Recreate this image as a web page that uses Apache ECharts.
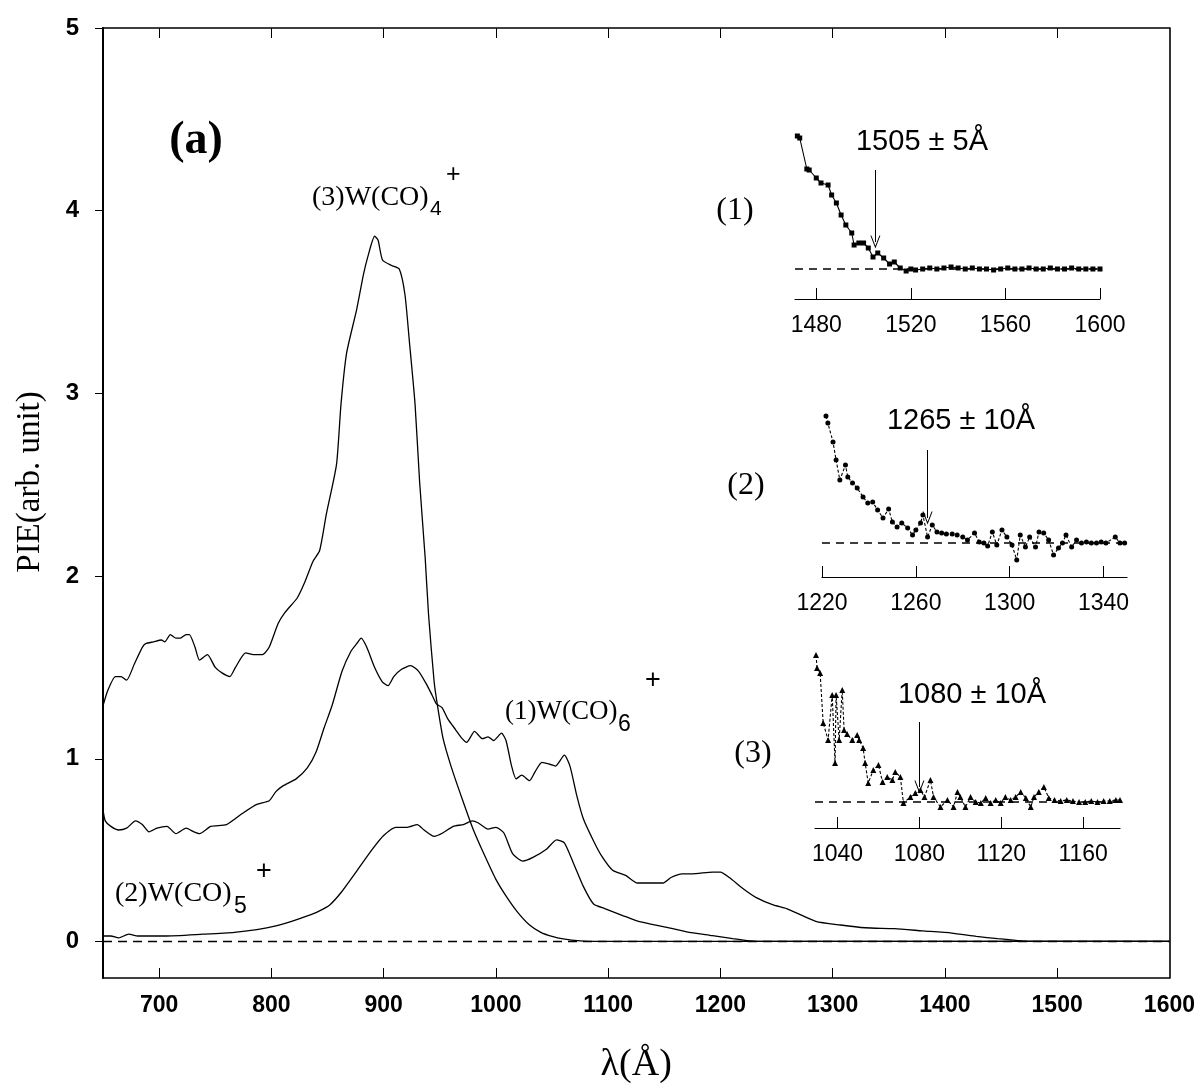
<!DOCTYPE html>
<html>
<head>
<meta charset="utf-8">
<script src="https://cdn.jsdelivr.net/npm/echarts@6/dist/echarts.min.js"></script>
<style>
  html, body { margin: 0; padding: 0; background: #fff; }
  #chart { width: 1198px; height: 1091px; }
</style>
</head>
<body>
<div id="chart"></div>
<script>
// main panel: wavelength (Å) vs PIE (arb. unit)
const w6Curve = [[650,0.72],[652,0.66],[657,0.63],[664,0.61],[671,0.62],[679,0.66],[685,0.64],[691,0.60],[698,0.62],[707,0.63],[715,0.59],[724,0.62],[731,0.60],[736,0.59],[746,0.63],[760,0.64],[774,0.70],[787,0.75],[798,0.77],[804,0.82],[810,0.85],[822,0.89],[832,0.95],[840,1.04],[847,1.17],[854,1.29],[863,1.48],[871,1.59],[876,1.63],[880,1.66],[885,1.61],[892,1.50],[899,1.42],[904,1.40],[909,1.45],[916,1.49],[924,1.51],[931,1.48],[938,1.41],[943,1.35],[947,1.30],[952,1.28],[957,1.22],[964,1.16],[970,1.11],[974,1.09],[981,1.15],[988,1.11],[993,1.12],[998,1.10],[1005,1.14],[1009,1.10],[1014,0.96],[1018,0.89],[1023,0.91],[1030,0.88],[1035,0.93],[1041,0.98],[1048,0.97],[1053,0.96],[1061,1.02],[1066,0.96],[1072,0.80],[1078,0.67],[1087,0.55],[1094,0.47],[1104,0.39],[1116,0.36],[1126,0.32],[1135,0.32],[1141,0.32],[1149,0.32],[1156,0.35],[1166,0.37],[1175,0.37],[1193,0.38],[1200,0.38],[1208,0.35],[1220,0.29],[1232,0.24],[1247,0.20],[1259,0.18],[1285,0.11],[1307,0.09],[1329,0.075],[1355,0.07],[1380,0.058],[1406,0.046],[1428,0.028],[1447,0.015],[1465,0.005],[1480,0],[1600,0]];
const w5Curve = [[650,0.03],[657,0.03],[664,0.02],[673,0.04],[681,0.03],[705,0.03],[739,0.04],[767,0.05],[787,0.065],[804,0.085],[818,0.11],[832,0.14],[842,0.165],[852,0.20],[863,0.275],[876,0.385],[890,0.505],[900,0.58],[911,0.625],[921,0.625],[930,0.64],[936,0.61],[945,0.575],[953,0.595],[962,0.63],[971,0.64],[979,0.66],[984,0.65],[993,0.615],[1000,0.625],[1007,0.595],[1015,0.48],[1024,0.44],[1033,0.46],[1045,0.505],[1054,0.556],[1061,0.54],[1069,0.43],[1078,0.30],[1087,0.205],[1097,0.18],[1113,0.142],[1128,0.108],[1150,0.08],[1170,0.053],[1193,0.032],[1211,0.015],[1226,0.003],[1240,0],[1600,0]];
const w4Curve = [[650,1.29],[654,1.37],[661,1.45],[666,1.45],[671,1.43],[678,1.52],[685,1.61],[688,1.63],[695,1.64],[702,1.65],[705,1.64],[710,1.68],[715,1.66],[719,1.66],[724,1.68],[727,1.68],[732,1.61],[736,1.54],[743,1.57],[750,1.50],[756,1.47],[763,1.45],[768,1.50],[777,1.58],[784,1.57],[792,1.57],[798,1.61],[806,1.74],[812,1.80],[823,1.88],[830,1.97],[837,2.08],[843,2.14],[849,2.34],[858,2.61],[862,2.94],[867,3.22],[876,3.46],[882,3.65],[886,3.75],[892,3.86],[895,3.84],[899,3.73],[907,3.70],[914,3.68],[919,3.54],[923,3.28],[928,2.94],[932,2.52],[937,2.10],[940,1.79],[945,1.42],[948,1.29],[953,1.11],[960,0.96],[970,0.78],[980,0.61],[990,0.47],[1000,0.34],[1010,0.24],[1020,0.155],[1030,0.09],[1040,0.05],[1050,0.028],[1060,0.014],[1075,0.003],[1090,0],[1600,0]];
const zeroLine = [[650,0],[1600,0]];
const mainXTicks = [700,800,900,1000,1100,1200,1300,1400,1500];
const mainXLabels = [700,800,900,1000,1100,1200,1300,1400,1500,1600];
const mainYTicks = [0,1,2,3,4,5];

// threshold insets (arbitrary y units, baseline = 0)
const inset1 = [[1472,1.33],[1473,1.31],[1476,1.00],[1477,0.99],[1480,0.91],[1482,0.86],[1485,0.84],[1486.5,0.74],[1488.5,0.66],[1490.5,0.54],[1492.5,0.44],[1495,0.36],[1496,0.24],[1498,0.26],[1500,0.26],[1502,0.21],[1504,0.12],[1506,0.16],[1508.5,0.11],[1511,0.05],[1513,0.07],[1515.5,0.01],[1518,-0.02],[1520,0],[1522,-0.01],[1525,0],[1528,0.01],[1531,0],[1534,0.01],[1537,0.02],[1540,0.01],[1543,0],[1546,0.01],[1549,0],[1552,0],[1555,-0.01],[1558,0],[1561,0.01],[1564,0],[1567,0],[1570,0.01],[1573,0],[1576,0],[1579,0.01],[1582,0],[1585,0],[1588,0.01],[1591,0],[1594,0],[1597,0],[1600,0]];
const inset2 = [[1221.7,1.27],[1222.5,1.20],[1224.7,1.01],[1226,0.83],[1227.6,0.63],[1230,0.78],[1231,0.66],[1233,0.60],[1235,0.55],[1237.5,0.46],[1239.5,0.40],[1241.6,0.41],[1243.7,0.33],[1246,0.25],[1248.4,0.34],[1250,0.21],[1252,0.16],[1254,0.20],[1256.5,0.15],[1258.6,0.08],[1260,0.13],[1262,0.20],[1263,0.28],[1265,0.06],[1267,0.18],[1269,0.11],[1271,0.10],[1273,0.09],[1275.5,0.09],[1277.6,0.08],[1280,0.06],[1282,0.03],[1285,0.10],[1287,0.01],[1289,0],[1290.6,-0.03],[1292.6,0.11],[1294.5,-0.02],[1296.7,0.13],[1298.8,0.06],[1301,-0.02],[1303,-0.17],[1304.5,0.08],[1306.7,-0.04],[1308.5,0.06],[1311,-0.04],[1312.5,0.11],[1314.5,0.10],[1316.6,0.03],[1318.7,-0.12],[1320.8,-0.05],[1322.5,0],[1324,0.08],[1326.4,-0.04],[1328.5,0.03],[1330.6,0],[1332.7,0.01],[1334.8,0],[1337,0],[1339,0.01],[1341,0],[1345,0.06],[1347,0],[1349,0]];
const inset3 = [[1029.5,1.47],[1030,1.34],[1031.5,1.29],[1033,0.79],[1035.4,0.62],[1037.4,1.07],[1038.8,0.39],[1039.3,1.07],[1040.8,0.62],[1042.3,1.12],[1043.2,0.72],[1044.7,0.68],[1047.2,0.62],[1049.6,0.67],[1050.6,0.62],[1052.5,0.54],[1053.5,0.39],[1055,0.19],[1057.5,0.32],[1060,0.37],[1062,0.20],[1064.3,0.25],[1066.8,0.22],[1068.2,0.30],[1070.7,0.25],[1072.2,-0.01],[1075.6,0.05],[1078,0.09],[1080.5,0.12],[1082.5,0.05],[1085.4,0.22],[1086.9,0.05],[1090.3,-0.05],[1093.7,0.02],[1096.7,-0.05],[1098.6,0.10],[1100,0.05],[1102.5,-0.05],[1105,0.05],[1107.5,0],[1110,-0.01],[1112.4,0.04],[1114.8,-0.01],[1117.3,0.02],[1119.7,-0.01],[1122,0.05],[1124.6,0.02],[1127,0.05],[1129.5,0.10],[1132,0.04],[1134.4,-0.05],[1136,0.05],[1138.3,0.10],[1140.8,0.15],[1143.2,0.04],[1146,0.02],[1149,0.01],[1152,0.02],[1155,0.01],[1158,0],[1161,0],[1164,0.01],[1167,0],[1170,0.01],[1173,0.01],[1176,0.02],[1178,0.02]];
const inset1Ticks = [1480,1520,1560,1600];
const inset2Ticks = [1220,1260,1300,1340];
const inset3Ticks = [1040,1080,1120,1160];
const thresholdWave = [1505, 1265, 1080];
const arrowTop = [0.99, 0.93, 0.80];
const arrowTip = [0.27, 0.25, 0.15];

const SERIF = "'Liberation Serif', 'Times New Roman', serif";
const SANS = "'Liberation Sans', Arial, sans-serif";
const BLACK = '#000';
const arrowHead = 'path://M0,12 L5,0 L10,12 L9,12 L5,2.5 L1,12 Z';
const plain = v => String(v);

function insetX (grid, min, max, ticks) {
  return {
    type: 'value', gridIndex: grid, min: min, max: max,
    axisLine: { onZero: false, lineStyle: { color: BLACK, width: 1.2 } },
    axisTick: { inside: true, length: 11, customValues: ticks, lineStyle: { color: BLACK } },
    axisLabel: { customValues: ticks, formatter: plain, fontFamily: SANS, fontSize: 23, color: BLACK, margin: 15 },
    splitLine: { show: false }
  }
}

function insetY (grid, min, max) {
  return { type: 'value', gridIndex: grid, min: min, max: max, show: false }
}

function insetSeries (idx, data, symbol, size, dashed) {
  return {
    type: 'line', xAxisIndex: idx + 1, yAxisIndex: idx + 2, data: data,
    symbol: symbol, symbolSize: size, showSymbol: true,
    itemStyle: { color: BLACK }, lineStyle: { color: BLACK, width: 1.1, type: dashed ? [3, 2] : 'solid' },
    markLine: {
      silent: true, symbol: ['none', arrowHead], symbolSize: [10, 13],
      lineStyle: { color: BLACK, width: 1, type: 'solid' }, label: { show: false },
      data: [[{ coord: [thresholdWave[idx], arrowTop[idx]] }, { coord: [thresholdWave[idx], arrowTip[idx]] }]]
    }
  }
}

function baseSeries (xi, yi, data, dash) {
  return {
    type: 'line', xAxisIndex: xi, yAxisIndex: yi, data: data, showSymbol: false, silent: true,
    lineStyle: { color: BLACK, width: 1.4, type: dash }
  }
}

function curve (data) {
  return {
    type: 'line', xAxisIndex: 0, yAxisIndex: 0, data: data, showSymbol: false, smooth: 0.2,
    lineStyle: { color: BLACK, width: 1.3 }
  }
}

function txt (text, x, y, font, align, rot) {
  return {
    type: 'text', x: x, y: y, rotation: rot || 0,
    style: { text: text, font: font, fill: BLACK, textAlign: align || 'left', textVerticalAlign: 'middle' }
  }
}

const chart = echarts.init(document.getElementById('chart'))
chart.setOption({
  animation: false,
  backgroundColor: '#fff',
  grid: [
    { left: 103, top: 28, width: 1070, height: 950 },
    { left: 795, top: 130, width: 305, height: 169 },
    { left: 822, top: 400, width: 305, height: 177 },
    { left: 815, top: 650, width: 305, height: 178 }
  ],
  xAxis: [
    {
      type: 'value', gridIndex: 0, min: 650, max: 1600, position: 'bottom',
      axisLine: { onZero: false, lineStyle: { color: BLACK, width: 1.6 } },
      axisTick: { inside: true, length: 10, customValues: mainXTicks, lineStyle: { color: BLACK } },
      axisLabel: { customValues: mainXLabels, formatter: plain, fontFamily: SANS, fontWeight: 'bold', fontSize: 23, color: BLACK, margin: 16 },
      splitLine: { show: false },
      name: 'λ(Å)', nameLocation: 'middle', nameGap: 68,
      nameTextStyle: { fontFamily: SERIF, fontSize: 38, color: BLACK }
    },
    insetX(1, 1471, 1600, inset1Ticks),
    insetX(2, 1220, 1350, inset2Ticks),
    insetX(3, 1029, 1178, inset3Ticks),
    {
      type: 'value', gridIndex: 0, min: 650, max: 1600, position: 'top',
      axisLine: { onZero: false, lineStyle: { color: BLACK, width: 1.6 } },
      axisTick: { inside: true, length: 10, customValues: mainXTicks, lineStyle: { color: BLACK } },
      axisLabel: { show: false }, splitLine: { show: false }
    }
  ],
  yAxis: [
    {
      type: 'value', gridIndex: 0, min: -0.2, max: 5, position: 'left',
      axisLine: { show: true, onZero: false, lineStyle: { color: BLACK, width: 2 } },
      axisTick: { show: true, length: 8, customValues: mainYTicks, lineStyle: { color: BLACK } },
      axisLabel: { customValues: mainYTicks, formatter: plain, fontFamily: SANS, fontWeight: 'bold', fontSize: 24, color: BLACK, margin: 24 },
      splitLine: { show: false }
    },
    {
      type: 'value', gridIndex: 0, min: -0.2, max: 5, position: 'right',
      axisLine: { show: true, onZero: false, lineStyle: { color: BLACK, width: 1.6 } },
      axisTick: { show: false }, axisLabel: { show: false }, splitLine: { show: false }
    },
    insetY(1, -0.30, 1.39),
    insetY(2, -0.34, 1.43),
    insetY(3, -0.26, 1.52)
  ],
  series: [
    baseSeries(0, 0, zeroLine, [9, 6]),
    curve(w6Curve),
    curve(w5Curve),
    curve(w4Curve),
    baseSeries(1, 2, [[1471, 0], [1600, 0]], [8, 6]),
    baseSeries(2, 3, [[1220, 0], [1350, 0]], [8, 6]),
    baseSeries(3, 4, [[1029, 0], [1178, 0]], [8, 6]),
    insetSeries(0, inset1, 'rect', 5, false),
    insetSeries(1, inset2, 'circle', 5, true),
    insetSeries(2, inset3, 'triangle', 6, true)
  ],
  graphic: [
    txt('PIE(arb. unit)', 30, 482, '33px ' + SERIF, 'center', Math.PI / 2),
    txt('(a)', 196, 141, 'bold 46px ' + SERIF, 'center'),
    txt('(3)W(CO)', 312, 198, '28px ' + SERIF),
    txt('4', 430, 209, '21px ' + SANS),
    txt('+', 446, 175, '25px ' + SANS),
    txt('(1)W(CO)', 505, 712, '27px ' + SERIF),
    txt('6', 618, 725, '23px ' + SANS),
    txt('+', 645, 681, '27px ' + SANS),
    txt('(2)W(CO)', 115, 894, '28px ' + SERIF),
    txt('5', 234, 907, '23px ' + SANS),
    txt('+', 256, 872, '27px ' + SANS),
    txt('(1)', 735, 211, '32px ' + SERIF, 'center'),
    txt('(2)', 746, 486, '32px ' + SERIF, 'center'),
    txt('(3)', 753, 754, '32px ' + SERIF, 'center'),
    txt('1505 ± 5Å', 922, 142, '29px ' + SANS, 'center'),
    txt('1265 ± 10Å', 961, 421, '29px ' + SANS, 'center'),
    txt('1080 ± 10Å', 972, 695, '29px ' + SANS, 'center')
  ]
})
</script>
</body>
</html>
